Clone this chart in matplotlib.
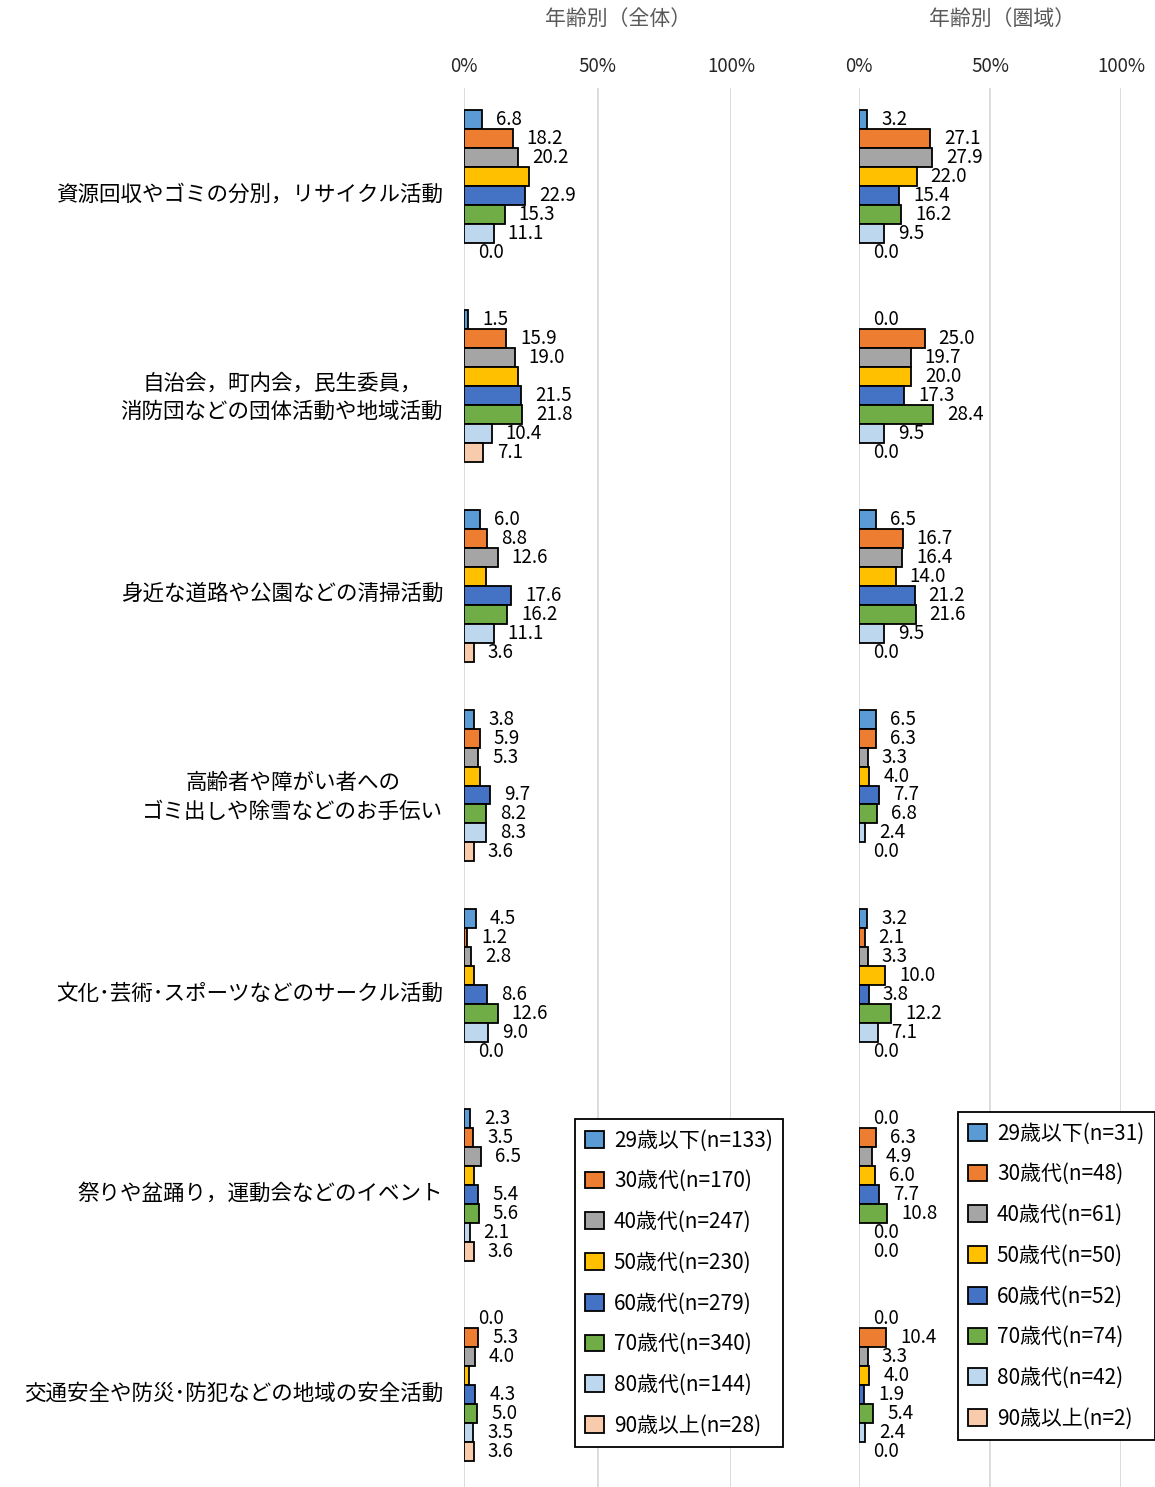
import matplotlib
matplotlib.use('Agg')
import matplotlib.pyplot as plt
from matplotlib.patches import Patch
from matplotlib.transforms import ScaledTranslation
import numpy as np

plt.rcParams['font.family'] = ['Noto Sans CJK JP', 'DejaVu Sans']

# ---- data ----
categories = [
    '資源回収やゴミの分別，リサイクル活動',
    '自治会，町内会，民生委員，\n消防団などの団体活動や地域活動',
    '身近な道路や公園などの清掃活動',
    '高齢者や障がい者への\nゴミ出しや除雪などのお手伝い',
    '文化･芸術･スポーツなどのサークル活動',
    '祭りや盆踊り，運動会などのイベント',
    '交通安全や防災･防犯などの地域の安全活動',
]
age_groups = ['29歳以下', '30歳代', '40歳代', '50歳代', '60歳代', '70歳代', '80歳代', '90歳以上']
n_all = [133, 170, 247, 230, 279, 340, 144, 28]
n_area = [31, 48, 61, 50, 52, 74, 42, 2]

# 年齢別（全体）, one list per age group, in category order
all_29 = [6.8, 1.5, 6.0, 3.8, 4.5, 2.3, 0.0]
all_30 = [18.2, 15.9, 8.8, 5.9, 1.2, 3.5, 5.3]
all_40 = [20.2, 19.0, 12.6, 5.3, 2.8, 6.5, 4.0]
all_50 = [24.3, 20.4, 8.3, 6.1, 3.9, 3.9, 1.7]   # no data labels in the source
all_60 = [22.9, 21.5, 17.6, 9.7, 8.6, 5.4, 4.3]
all_70 = [15.3, 21.8, 16.2, 8.2, 12.6, 5.6, 5.0]
all_80 = [11.1, 10.4, 11.1, 8.3, 9.0, 2.1, 3.5]
all_90 = [0.0, 7.1, 3.6, 3.6, 0.0, 3.6, 3.6]

# 年齢別（圏域）
area_29 = [3.2, 0.0, 6.5, 6.5, 3.2, 0.0, 0.0]
area_30 = [27.1, 25.0, 16.7, 6.3, 2.1, 6.3, 10.4]
area_40 = [27.9, 19.7, 16.4, 3.3, 3.3, 4.9, 3.3]
area_50 = [22.0, 20.0, 14.0, 4.0, 10.0, 6.0, 4.0]
area_60 = [15.4, 17.3, 21.2, 7.7, 3.8, 7.7, 1.9]
area_70 = [16.2, 28.4, 21.6, 6.8, 12.2, 10.8, 5.4]
area_80 = [9.5, 9.5, 9.5, 2.4, 7.1, 0.0, 2.4]
area_90 = [0.0, 0.0, 0.0, 0.0, 0.0, 0.0, 0.0]

all_series = [all_29, all_30, all_40, all_50, all_60, all_70, all_80, all_90]
area_series = [area_29, area_30, area_40, area_50, area_60, area_70, area_80, area_90]
all_labeled = [True, True, True, False, True, True, True, True]
area_labeled = [True] * 8

colors = ['#5B9BD5', '#ED7D31', '#A5A5A5', '#FFC000',
          '#4472C4', '#70AD47', '#BDD7EE', '#F8CBAD']

W, H = 1155, 1487
fig = plt.figure(figsize=(W / 100, H / 100), dpi=100)


def fx(px):
    return px / W


def fy(py):
    return 1 - py / H


def draw_panel(ax, series, labeled, show_cats):
    y = np.arange(len(categories))
    h = 0.095
    for j, vals in enumerate(series):
        pos = y + (j - 3.5) * h - 0.01
        lw = [1.3 if v > 0 else 0 for v in vals]
        ax.barh(pos, vals, height=h, color=colors[j],
                edgecolor='black', linewidth=lw, zorder=3)
        if labeled[j]:
            for p, v in zip(pos, vals):
                ax.annotate(f'{v:.1f}', (v, p), xytext=(14, 0),
                            textcoords='offset pixels', va='center', ha='left',
                            fontsize=13.5, color='black', zorder=4)
    ax.set_xlim(0, 100)
    ax.set_ylim(len(categories) - 0.5, -0.5)
    ax.xaxis.tick_top()
    ax.set_xticks([0, 50, 100])
    ax.set_xticklabels(['0%', '50%', '100%'], fontsize=13.5, color='#262626')
    ax.tick_params(axis='x', length=0, pad=8)
    ax.tick_params(axis='y', length=0, pad=15)
    ax.grid(axis='x', color='#D9D9D9', linewidth=1.3, zorder=0)
    for s in ax.spines.values():
        s.set_visible(False)
    ax.set_yticks(y)
    if show_cats:
        ax.set_yticklabels(categories, fontsize=15.5, color='black',
                           multialignment='center', linespacing=1.4)
        shift = ScaledTranslation(0, -4 / 100, fig.dpi_scale_trans)
        for lab in ax.get_yticklabels():
            lab.set_transform(lab.get_transform() + shift)
    else:
        ax.set_yticklabels([])


ax1 = fig.add_axes([fx(464), 0.0, fx(731) - fx(464), fy(88)])
ax2 = fig.add_axes([fx(859), 0.0, fx(1121) - fx(859), fy(88)])

draw_panel(ax1, all_series, all_labeled, True)
draw_panel(ax2, area_series, area_labeled, False)

fig.text(fx(618), fy(19), '年齢別（全体）', ha='center', va='center',
         fontsize=15, color='#595959')
fig.text(fx(1002), fy(19), '年齢別（圏域）', ha='center', va='center',
         fontsize=15, color='#595959')

handles = [Patch(facecolor=c, edgecolor='black', linewidth=1.3) for c in colors]
leg_kw = dict(loc='upper left', borderaxespad=0, fontsize=15,
              handlelength=0.87, handleheight=0.87, handletextpad=0.5,
              labelspacing=0.9, borderpad=0.5, frameon=True,
              fancybox=False, edgecolor='black', framealpha=1)

lab1 = [f'{a}(n={n})' for a, n in zip(age_groups, n_all)]
lab2 = [f'{a}(n={n})' for a, n in zip(age_groups, n_area)]
l1 = fig.legend(handles, lab1, bbox_to_anchor=(fx(575), fy(1119)), **leg_kw)
l2 = fig.legend(handles, lab2, bbox_to_anchor=(fx(958), fy(1112)), **leg_kw)
for lg in (l1, l2):
    lg.get_frame().set_linewidth(1.3)

fig.savefig('out.png', dpi=100)
